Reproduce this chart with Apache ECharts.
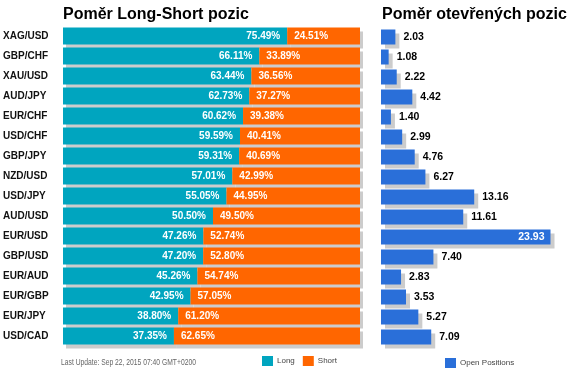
<!DOCTYPE html>
<html>
<head>
<meta charset="utf-8">
<script src="https://cdn.jsdelivr.net/npm/echarts@6/dist/echarts.min.js"></script>
<style>
  html, body { margin: 0; padding: 0; background: #fff; }
  #chart { width: 575px; height: 376px; }
</style>
</head>
<body>
<div id="chart"></div>
<script>
const pairs = ["XAG/USD", "GBP/CHF", "XAU/USD", "AUD/JPY", "EUR/CHF", "USD/CHF", "GBP/JPY", "NZD/USD",
  "USD/JPY", "AUD/USD", "EUR/USD", "GBP/USD", "EUR/AUD", "EUR/GBP", "EUR/JPY", "USD/CAD"];
const longPct = [75.49, 66.11, 63.44, 62.73, 60.62, 59.59, 59.31, 57.01, 55.05, 50.50, 47.26, 47.20, 45.26, 42.95, 38.80, 37.35];
const shortPct = [24.51, 33.89, 36.56, 37.27, 39.38, 40.41, 40.69, 42.99, 44.95, 49.50, 52.74, 52.80, 54.74, 57.05, 61.20, 62.65];
const openPos = [2.03, 1.08, 2.22, 4.42, 1.40, 2.99, 4.76, 6.27, 13.16, 11.61, 23.93, 7.40, 2.83, 3.53, 5.27, 7.09];

const FONT = "'Liberation Sans', Arial, sans-serif";

const shadow = {
  shadowColor: "#cccccc",
  shadowBlur: 0,
  shadowOffsetX: 3,
  shadowOffsetY: 4
};

const openMax = 24;
// biggest bar gets its label inside, in white
const openData = openPos.map(v => v > openMax * 0.8
  ? { value: v, label: { position: "insideRight", color: "#fff", distance: 6 } }
  : v);

const chart = echarts.init(document.getElementById("chart"));

chart.setOption({
  animation: false,
  textStyle: { fontFamily: FONT },
  title: [
    { text: "Poměr Long-Short pozic", left: 63, top: 7, padding: 0,
      textStyle: { fontSize: 16, fontWeight: "bold", color: "#000", fontFamily: FONT } },
    { text: "Poměr otevřených pozic", left: 382, top: 7, padding: 0,
      textStyle: { fontSize: 16, fontWeight: "bold", color: "#000", fontFamily: FONT } }
  ],
  legend: [
    {
      data: ["Long", "Short"],
      left: 262, top: 356, padding: 0,
      itemWidth: 11, itemHeight: 10, itemGap: 8,
      icon: "rect",
      textStyle: { fontSize: 8, color: "#444", padding: [0, 0, 0, -1] }
    },
    {
      data: ["Open Positions"],
      left: 445, top: 358, padding: 0,
      itemWidth: 11, itemHeight: 10,
      icon: "rect",
      textStyle: { fontSize: 8, color: "#444", padding: [0, 0, 0, -1] }
    }
  ],
  graphic: [
    {
      type: "text", left: 61, top: 358, scaleX: 0.75,
      style: { text: "Last Update: Sep 22, 2015 07:40 GMT+0200", font: "9px " + FONT, fill: "#666" }
    }
  ],
  grid: [
    { left: 63, right: 215, top: 26, height: 320 },
    { left: 381, right: 24, top: 27, height: 320 }
  ],
  xAxis: [
    { gridIndex: 0, type: "value", min: 0, max: 100, show: false },
    { gridIndex: 1, type: "value", min: 0, max: openMax, show: false }
  ],
  yAxis: [
    {
      gridIndex: 0, type: "category", data: pairs, inverse: true,
      axisLine: { show: false }, axisTick: { show: false },
      axisLabel: { align: "left", margin: 60, fontSize: 10, fontWeight: "bold", color: "#111" }
    },
    {
      gridIndex: 1, type: "category", data: pairs, inverse: true, show: false
    }
  ],
  series: [
    {
      name: "Long", type: "bar", stack: "ls", xAxisIndex: 0, yAxisIndex: 0,
      data: longPct, barCategoryGap: "15%",
      itemStyle: Object.assign({ color: "#00a5bf" }, shadow),
      label: {
        show: true, position: "insideRight", distance: 7,
        formatter: p => p.value.toFixed(2) + "%",
        color: "#fff", fontSize: 10, fontWeight: "bold"
      }
    },
    {
      name: "Short", type: "bar", stack: "ls", xAxisIndex: 0, yAxisIndex: 0,
      data: shortPct, barCategoryGap: "15%",
      itemStyle: Object.assign({ color: "#ff6600" }, shadow),
      label: {
        show: true, position: "insideLeft", distance: 7,
        formatter: p => p.value.toFixed(2) + "%",
        color: "#fff", fontSize: 10, fontWeight: "bold"
      }
    },
    {
      name: "Open Positions", type: "bar", xAxisIndex: 1, yAxisIndex: 1,
      data: openData, barWidth: 15,
      itemStyle: Object.assign({ color: "#2a6fd9" }, shadow, { shadowOffsetX: 4 }),
      label: {
        show: true, position: "right", distance: 8,
        formatter: p => p.value.toFixed(2),
        color: "#000", fontSize: 10.5, fontWeight: "bold"
      }
    }
  ]
});
</script>
</body>
</html>
